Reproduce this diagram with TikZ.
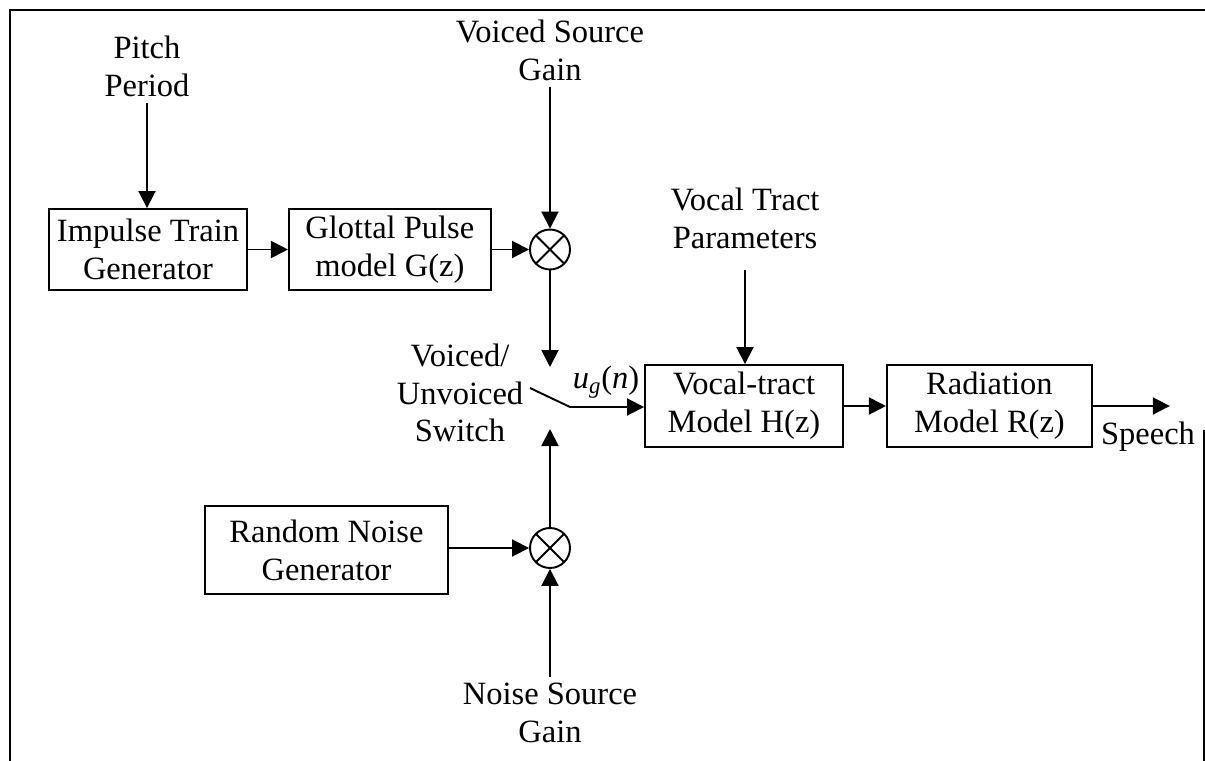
\documentclass[tikz,border=0pt]{standalone}
\usepackage{fontspec}
\setmainfont{Liberation Serif}
\usetikzlibrary{arrows.meta, positioning, calc}
\newcommand{\diagfont}{\fontsize{18.5}{21.5}\selectfont}

\begin{document}
\begin{tikzpicture}[
  x=0.02cm, y=-0.02cm,
  node distance=0.8cm,
  block/.style={rectangle, draw, line width=1.1pt, minimum width=3.96cm, minimum height=1.62cm, align=center, font=\diagfont, inner sep=2pt},
  txt/.style={align=center, font=\diagfont},
  mult/.style={circle, draw, line width=1.1pt, minimum size=0.8cm, inner sep=0pt,
    path picture={\draw[line width=1.1pt] (path picture bounding box.north west) -- (path picture bounding box.south east)
      (path picture bounding box.north east) -- (path picture bounding box.south west);}},
  arrow/.style={-{Triangle[length=0.34cm, width=0.34cm]}, line width=1.1pt}
]
  \useasboundingbox (0,0) rectangle (1205,761);

  % Frame
  \draw[line width=1.2pt] (10,761) -- (10,10) -- (1205,10);
  \draw[line width=1.2pt] (1204,430) -- (1204,761);

  % Voiced branch
  \node[block] (impulse) at (148,249.5) {Impulse Train\\Generator};
  \node[block, minimum width=4.04cm, right=0.8cm of impulse] (glottal) {Glottal Pulse\\model G(z)};
  \node[mult] (mulv) at (550,249.5) {};
  \node[txt] (pitch) at (147,66) {Pitch\\Period};
  \node[txt] (vgain) at (550,50) {Voiced Source\\Gain};

  % Switch
  \coordinate (swtop) at (550,367);
  \coordinate (swbot) at (550,429);
  \coordinate (swpivot) at (530,388);
  \coordinate (swknee) at (570,407);
  \node[txt] (swlabel) at (460,393) {Voiced/\\Unvoiced\\Switch};
  \node[font=\diagfont] (ug) at (606,382) {\textit{u}\textsubscript{\textit{g}}(\textit{n})};

  % Vocal tract and radiation
  \node[block, minimum height=1.64cm] (vocal) at (744,406) {Vocal-tract\\Model H(z)};
  \node[block, minimum width=4.1cm, minimum height=1.64cm, right=0.84cm of vocal] (radiation) {Radiation\\Model R(z)};
  \coordinate[right=1.54cm of radiation] (out);
  \node[txt] (vtp) at (745,218) {Vocal Tract\\Parameters};
  \coordinate (vtpstart) at (745,270);
  \node[txt] (speech) at (1148,437) {Speech};

  % Noise branch
  \node[block, minimum width=4.86cm, minimum height=1.76cm] (noise) at (326.5,550) {Random Noise\\Generator};
  \node[mult] (muln) at (550,548) {};
  \node[txt] (ngain) at (550,713) {Noise Source\\Gain};

  % Arrows
  \draw[arrow] (pitch.south) -- (pitch.south |- impulse.north);
  \draw[arrow] (impulse) -- (glottal);
  \draw[arrow] (glottal) -- (glottal -| mulv.west);
  \draw[arrow] (mulv |- vgain.south) -- (mulv.north);
  \draw[arrow] (mulv.south) -- (swtop);
  \draw[arrow] (swpivot) -- (swknee) -- (swknee -| vocal.west);
  \draw[arrow] (muln.north) -- (swbot);
  \draw[arrow] (noise.east |- muln) -- (muln.west);
  \draw[arrow] (muln |- ngain.north) -- (muln.south);
  \draw[arrow] (vtpstart) -- (vtpstart |- vocal.north);
  \draw[arrow] (vocal) -- (radiation);
  \draw[arrow] (radiation) -- (out);
\end{tikzpicture}
\end{document}
